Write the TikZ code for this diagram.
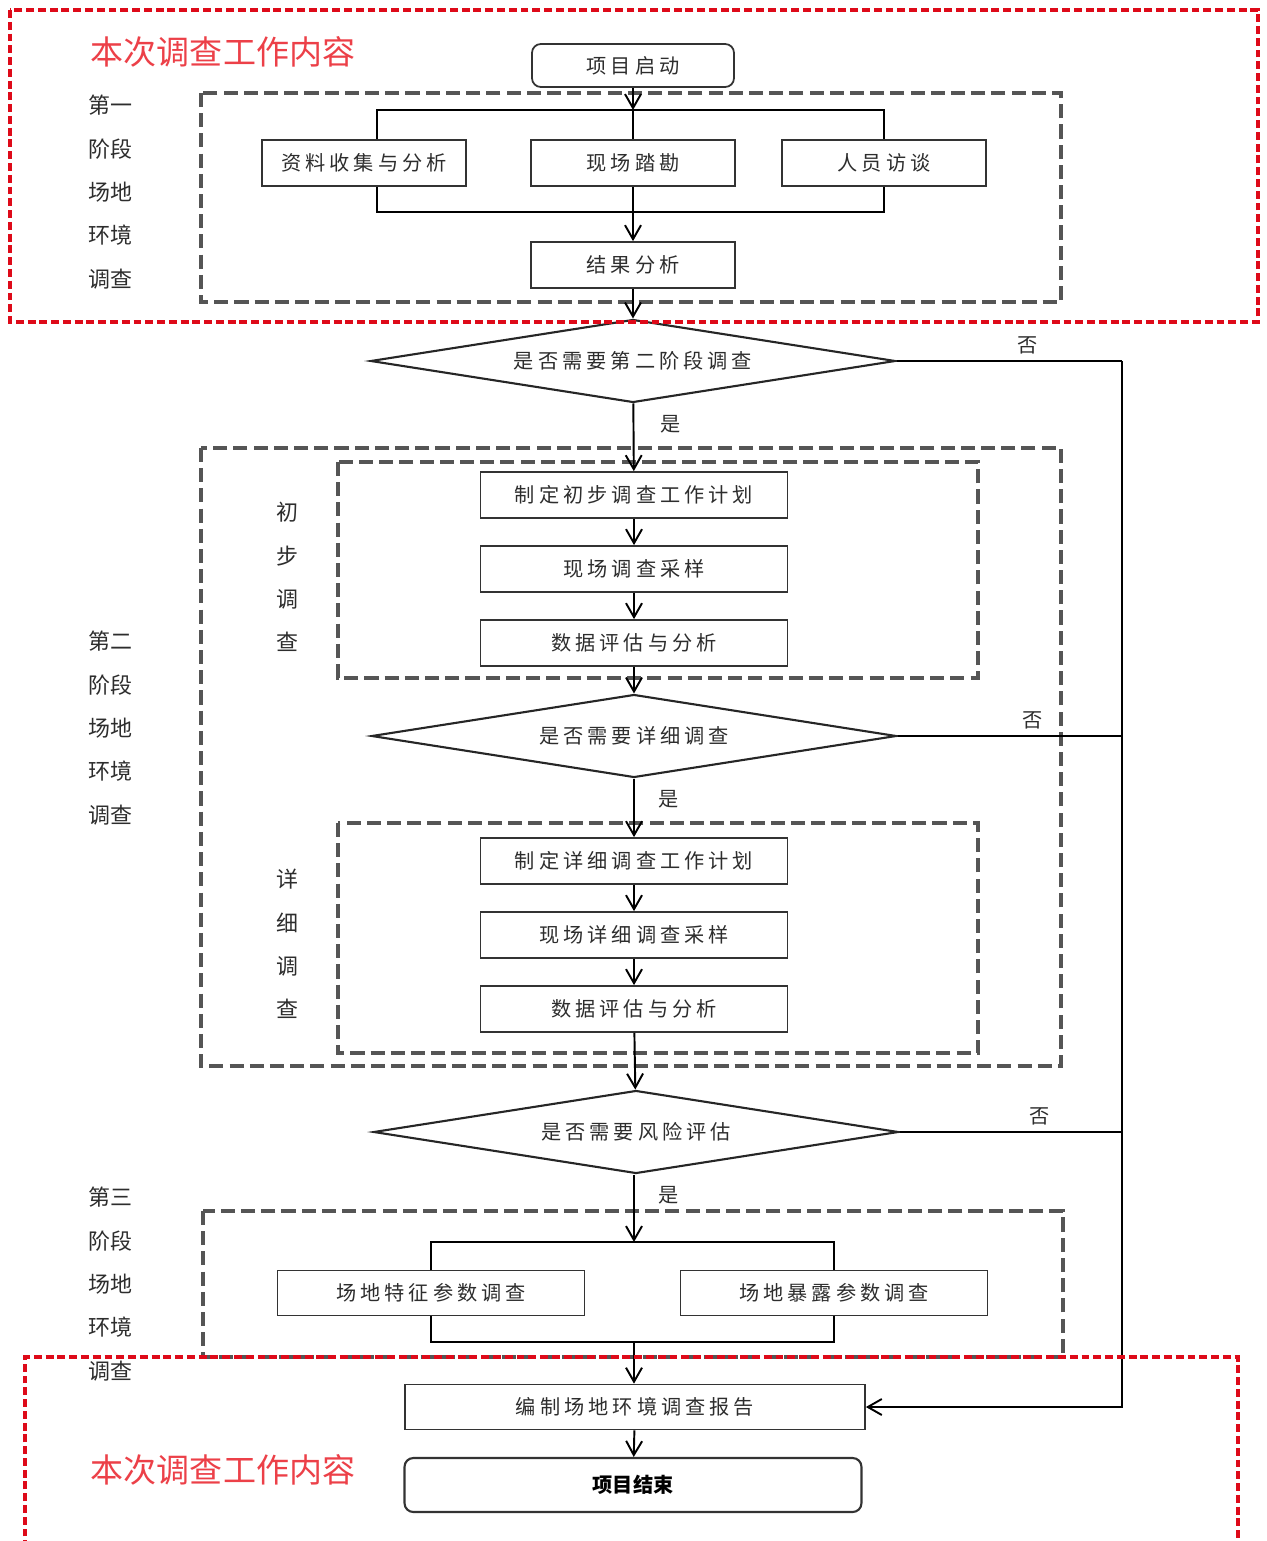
\documentclass[tikz,border=0pt]{standalone}
\usepackage{fontspec}
\usepackage{xcolor}
\setmainfont{Noto Sans CJK SC}
\newfontfamily\boxfont[LetterSpace=20]{Noto Sans CJK SC}
\usetikzlibrary{shapes.geometric,arrows.meta}
\definecolor{SurveyRed}{RGB}{222,10,25}
\definecolor{TitleRed}{RGB}{236,64,72}
\definecolor{FrameGray}{RGB}{85,85,85}
\definecolor{TextGray}{RGB}{45,45,45}

\tikzset{
  stepbox/.style={draw=black!80, line width=1pt, minimum width=6.14cm, minimum height=0.92cm,
    inner sep=0pt, text=TextGray, font={\boxfont\fontsize{11.5}{13}\selectfont}},
  smallbox/.style={stepbox, minimum width=4.08cm},
  decision/.style={diamond, draw=black!85, line width=1.2pt, shape aspect=6.3, minimum width=10.5cm,
    minimum height=1.66cm, inner sep=0pt, text=TextGray, font={\boxfont\fontsize{11.5}{13}\selectfont}},
  flow/.style={line width=1.1pt, -{Straight Barb[length=2.8mm,width=3.2mm]}},
  link/.style={line width=1.1pt},
  stageframe/.style={draw=FrameGray, line width=1.8pt, dash pattern=on 8pt off 3.5pt},
  redframe/.style={draw=SurveyRed, line width=1.9pt, dash pattern=on 4.5pt off 2.2pt},
  sidelabel/.style={align=center, text=TextGray, font=\fontsize{12.5}{24.7}\selectfont},
  yesno/.style={text=TextGray, font=\fontsize{11.5}{13}\selectfont},
  redtitle/.style={text=TitleRed, font=\fontsize{18.8}{22}\selectfont}
}

\begin{document}
\begin{tikzpicture}[x=0.02cm, y=-0.02cm]
  \useasboundingbox (0,0) rectangle (1267,1541);

  % Stage frames
  \draw[stageframe] (201,93) rectangle (1061,302);
  \draw[stageframe] (201,448) rectangle (1061,1066);
  \draw[stageframe] (338,462) rectangle (978,678);
  \draw[stageframe] (338,823) rectangle (978,1053);
  \draw[stageframe] (203,1211) rectangle (1063,1357);

  % Stage labels
  \node[sidelabel] (stageone) at (110,192) {第一\\阶段\\场地\\环境\\调查};
  \node[sidelabel] (stagetwo) at (110,728) {第二\\阶段\\场地\\环境\\调查};
  \node[sidelabel] (stagethree) at (110,1284) {第三\\阶段\\场地\\环境\\调查};
  \node[sidelabel] (prelimlbl) at (287,577) {初\\步\\调\\查};
  \node[sidelabel] (detaillbl) at (287,944) {详\\细\\调\\查};

  % Stage one
  \node[stepbox, rounded corners=5pt, minimum width=4.04cm, minimum height=0.86cm] (start) at (633,65.5) {项目启动};
  \node[smallbox] (collect) at (364,163) {资料收集与分析};
  \node[smallbox] (visit) at (633,163) {现场踏勘};
  \node[smallbox] (interview) at (884,163) {人员访谈};
  \node[smallbox] (result) at (633,265) {结果分析};
  \coordinate (onetop) at (633,110);
  \coordinate (onebot) at (633,212);

  \draw[flow] (start) -- (onetop);
  \draw[link] (onetop) -- (visit);
  \draw[link] ([xshift=0.26cm]collect.north) |- (onetop) -| (interview.north);
  \draw[link] ([xshift=0.26cm]collect.south) |- (onebot) -| (interview.south);
  \draw[flow] (visit) -- (result);

  % Stage two
  \node[decision] (qone) at (633,361) {是否需要第二阶段调查};
  \node[stepbox] (planone) at (634,495) {制定初步调查工作计划};
  \node[stepbox] (sampleone) at (634,569) {现场调查采样};
  \node[stepbox] (evalone) at (634,643) {数据评估与分析};
  \node[decision] (qtwo) at (634,736) {是否需要详细调查};
  \node[stepbox] (plantwo) at (634,861) {制定详细调查工作计划};
  \node[stepbox] (sampletwo) at (634,935) {现场详细调查采样};
  \node[stepbox] (evaltwo) at (634,1009) {数据评估与分析};

  \draw[flow] (result) -- (qone);
  \draw[flow] (qone) -- (planone) node[yesno, pos=0.3, right=0.4cm] {是};
  \draw[flow] (planone) -- (sampleone);
  \draw[flow] (sampleone) -- (evalone);
  \draw[flow] (evalone) -- (qtwo);
  \draw[flow] (qtwo) -- (plantwo) node[yesno, pos=0.35, right=0.35cm] {是};
  \draw[flow] (plantwo) -- (sampletwo);
  \draw[flow] (sampletwo) -- (evaltwo);

  % Stage three
  \node[decision] (qthree) at (636,1132) {是否需要风险评估};
  \node[stepbox, minimum height=0.9cm] (feature) at (431,1293) {场地特征参数调查};
  \node[stepbox, minimum height=0.9cm] (exposure) at (834,1293) {场地暴露参数调查};
  \coordinate (threetop) at (634,1242);
  \coordinate (threebot) at (634,1342);

  \draw[flow] (evaltwo) -- (qthree);
  \draw[flow] (qthree.south -| threetop) -- (threetop) node[yesno, pos=0.3, right=0.35cm] {是};
  \draw[link] (feature.north) |- (threetop) -| (exposure.north);
  \draw[link] (feature.south) |- (threebot) -| (exposure.south);

  % Report and end
  \node[stepbox, minimum width=9.2cm, minimum height=0.9cm] (report) at (635,1407) {编制场地环境调查报告};
  \node[stepbox, rounded corners=5pt, line width=1.2pt, minimum width=9.14cm, minimum height=1.08cm,
    text=black, font=\bfseries\fontsize{11.5}{13}\selectfont] (finish) at (633,1485) {项目结束};

  \draw[flow] (threebot) -- (report.north -| threebot);
  \draw[flow] (report) -- (finish);

  % No branches
  \coordinate (noturn) at (1122,361);
  \draw[link] (qone.east) -- (noturn) node[yesno, pos=0.58, above] {否};
  \draw[link] (qtwo.east) -- (qtwo.east -| noturn) node[yesno, pos=0.6, above] {否};
  \draw[link] (qthree.east) -- (qthree.east -| noturn) node[yesno, pos=0.63, above] {否};
  \draw[flow] (noturn) |- (report.east);

  % Scope of this survey
  \node[redtitle] (scopetop) at (223,52) {本次调查工作内容};
  \node[redtitle] (scopebot) at (223,1470) {本次调查工作内容};
  \draw[redframe] (10,10) rectangle (1258,322);
  \draw[redframe] (25,1560) |- (1238,1357) -- (1238,1560);
\end{tikzpicture}
\end{document}
